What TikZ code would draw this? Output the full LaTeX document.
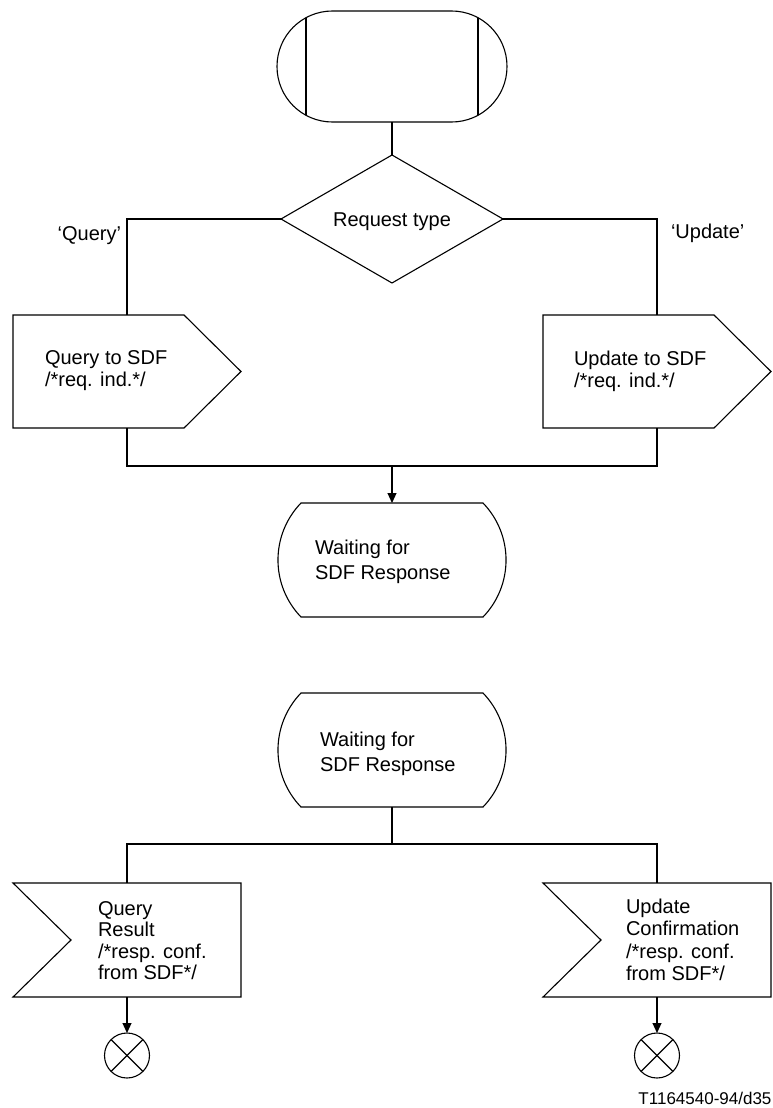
\documentclass[tikz,border=0pt]{standalone}
\usepackage{fontspec}
\setmainfont{Liberation Sans}
\usetikzlibrary{arrows.meta}
\begin{document}
\begin{tikzpicture}[x=1pt,y=-1pt,line width=1.1pt,
  conn/.style={draw=black},
  arr/.style={draw=black,-{Triangle[length=10pt,width=9pt]}},
  shp/.style={draw=black,line join=miter},
  lbl/.style={font=\fontsize{20}{22}\selectfont,inner sep=0pt,outer sep=0pt,align=left},
  statelbl/.style={font=\fontsize{20}{25}\selectfont,inner sep=0pt,outer sep=0pt,align=left},
  stoplbl/.style={circle,draw=black,inner sep=0pt,outer sep=0pt,minimum size=45pt}]
\useasboundingbox (0,0) rectangle (773,1108);

% procedure start
\draw[shp,rounded corners=55.4pt] (277,11) rectangle (507,122);
\draw[shp] (306,17.7) -- (306,115.3);
\draw[shp] (478,17.7) -- (478,115.3);
\coordinate (start-s) at (392,122);

% decision
\coordinate (d-n) at (392,155);
\coordinate (d-e) at (503,219);
\coordinate (d-s) at (392,283);
\coordinate (d-w) at (281,219);
\draw[shp] (d-n) -- (d-e) -- (d-s) -- (d-w) -- cycle;
\node[lbl,anchor=base] (dtext) at (392,226) {Request type};

% branch labels
\node[lbl,anchor=base east] (qlbl) at (121,240) {‘Query’};
\node[lbl,anchor=base west] (ulbl) at (671,238) {‘Update’};

% output signals
\draw[shp] (13,315) -- (184,315) -- (241,371.5) -- (184,428) -- (13,428) -- cycle;
\coordinate (q-n) at (127,315);
\coordinate (q-s) at (127,428);
\node[lbl,anchor=base west] (qtext) at (45,386) {Query to SDF\\/*req. ind.*/};

\draw[shp] (543,315) -- (714,315) -- (771,371.5) -- (714,428) -- (543,428) -- cycle;
\coordinate (u-n) at (657,315);
\coordinate (u-s) at (657,428);
\node[lbl,anchor=base west] (utext) at (574,387) {Update to SDF\\/*req. ind.*/};

% state 1
\draw[shp] (301,503) -- (483,503) .. controls (513.7,534.8) and (513.7,585.2) .. (483,617)
  -- (301,617) .. controls (270.3,585.2) and (270.3,534.8) .. (301,503) -- cycle;
\coordinate (w1-n) at (392,503);
\node[statelbl,anchor=base west] (w1text) at (315,579) {Waiting for\\SDF Response};

% state 2
\draw[shp] (301,693) -- (483,693) .. controls (513.7,724.8) and (513.7,775.2) .. (483,807)
  -- (301,807) .. controls (270.3,775.2) and (270.3,724.8) .. (301,693) -- cycle;
\coordinate (w2-s) at (392,807);
\node[statelbl,anchor=base west] (w2text) at (320,771) {Waiting for\\SDF Response};

% input signals
\draw[shp] (13,883) -- (241,883) -- (241,997) -- (13,997) -- (71,940) -- cycle;
\coordinate (qr-n) at (127,883);
\coordinate (qr-s) at (127,997);
\node[lbl,anchor=base west,font=\fontsize{20}{21.5}\selectfont] (qrtext) at (98,979.5) {Query\\Result\\/*resp. conf.\\from SDF*/};

\draw[shp] (543,883) -- (771,883) -- (771,997) -- (543,997) -- (601,940) -- cycle;
\coordinate (uc-n) at (657,883);
\coordinate (uc-s) at (657,997);
\node[lbl,anchor=base west,font=\fontsize{20}{22.5}\selectfont] (uctext) at (626,980.5) {Update\\Confirmation\\/*resp. conf.\\from SDF*/};

% stops
\node[stoplbl] (x1) at (127,1055.5) {};
\draw[conn] (x1.north west) -- (x1.south east);
\draw[conn] (x1.north east) -- (x1.south west);
\node[stoplbl] (x2) at (657,1055.5) {};
\draw[conn] (x2.north west) -- (x2.south east);
\draw[conn] (x2.north east) -- (x2.south west);

% junctions
\coordinate (j1) at (392,466);
\coordinate (j2) at (392,844);

% connectors
\draw[conn] (start-s) -- (d-n);
\draw[conn] (d-w) -| (q-n);
\draw[conn] (d-e) -| (u-n);
\draw[conn] (q-s) |- (j1) -| (u-s);
\draw[arr] (j1) -- (w1-n);
\draw[conn] (w2-s) -- (j2);
\draw[conn] (qr-n) |- (j2) -| (uc-n);
\draw[arr] (qr-s) -- (x1);
\draw[arr] (uc-s) -- (x2);

% figure id
\node[anchor=base east,font=\fontsize{17}{20}\selectfont,inner sep=0pt] (figid) at (772,1104) {T1164540-94/d35};
\end{tikzpicture}
\end{document}
